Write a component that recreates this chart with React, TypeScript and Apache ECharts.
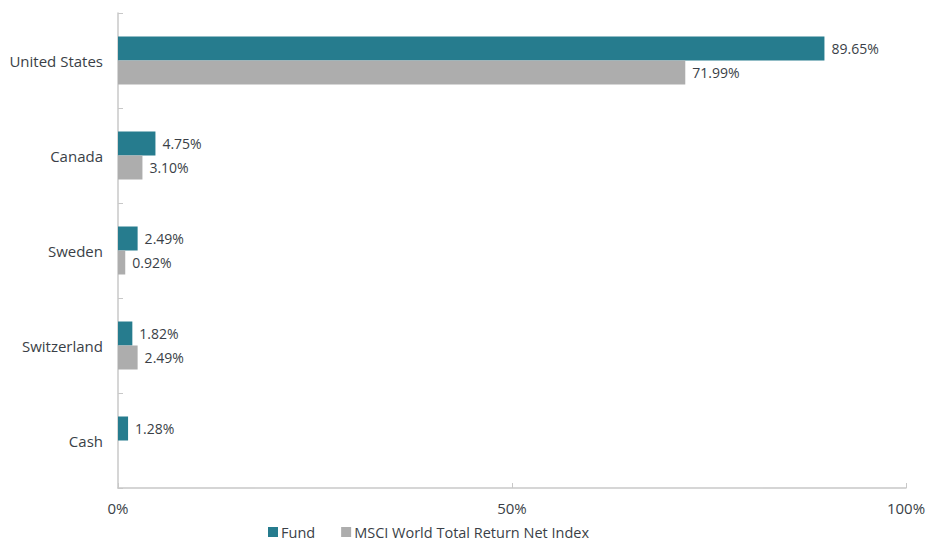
import React, { useEffect, useRef } from "react";
import * as echarts from "echarts";

const categories = ["United States", "Canada", "Sweden", "Switzerland", "Cash"];
const fundValues = [89.65, 4.75, 2.49, 1.82, 1.28];
const indexValues: (number | null)[] = [71.99, 3.1, 0.92, 2.49, null];
const xTicks = [0, 50, 100];

const FONT = "'Open Sans', sans-serif";
const TEXT = "#3a3f47";

export default function App() {
  const ref = useRef<HTMLDivElement>(null);
  useEffect(() => {
    if (!ref.current) return;
    const chart = echarts.init(ref.current, undefined, { renderer: "svg" });
    const label = {
      show: true,
      position: "right" as const,
      distance: 7,
      color: TEXT,
      fontFamily: FONT,
      fontSize: 14,
      formatter: (p: any) => (p.value == null ? "" : Number(p.value).toFixed(2) + "%"),
    };
    chart.setOption({
      animation: false,
      textStyle: { fontFamily: FONT },
      grid: { left: 118, right: 25, top: 13, bottom: 55, containLabel: false },
      legend: {
        top: 522,
        left: 263,
        padding: [2, 5, 2, 5],
        itemWidth: 10,
        itemHeight: 10,
        itemGap: 26,
        icon: "rect",
        textStyle: {
          color: TEXT,
          fontFamily: FONT,
          fontSize: 14.5,
          lineHeight: 16,
          padding: [0, 0, 0, -2],
        },
        data: ["Fund", "MSCI World Total Return Net Index"],
      },
      xAxis: {
        type: "value",
        min: 0,
        max: 100,
        interval: 50,
        axisLine: { show: true, lineStyle: { color: "#c8c8c8", width: 1.5 } },
        axisTick: { show: true, inside: true, length: 5, lineStyle: { color: "#c8c8c8" } },
        splitLine: { show: false },
        axisLabel: {
          color: TEXT,
          fontFamily: FONT,
          fontSize: 15,
          margin: 12,
          formatter: (v: number) => (xTicks.includes(v) ? v + "%" : ""),
        },
      },
      yAxis: {
        type: "category",
        inverse: true,
        data: categories,
        axisLine: { show: true, lineStyle: { color: "#c8c8c8", width: 1.5 } },
        axisTick: { show: true, inside: true, length: 5, lineStyle: { color: "#c8c8c8" } },
        axisLabel: { color: TEXT, fontFamily: FONT, fontSize: 15, margin: 15 },
      },
      series: [
        {
          name: "Fund",
          type: "bar",
          data: fundValues,
          barWidth: 24,
          barGap: "0%",
          itemStyle: { color: "#267c8e" },
          label,
        },
        {
          name: "MSCI World Total Return Net Index",
          type: "bar",
          data: indexValues,
          barWidth: 24,
          itemStyle: { color: "#adadad" },
          label,
        },
      ],
    });
    return () => chart.dispose();
  }, []);
  return (
    <div
      ref={ref}
      style={{ position: "absolute", left: 0, top: 0, width: 931, height: 543 }}
    />
  );
}
